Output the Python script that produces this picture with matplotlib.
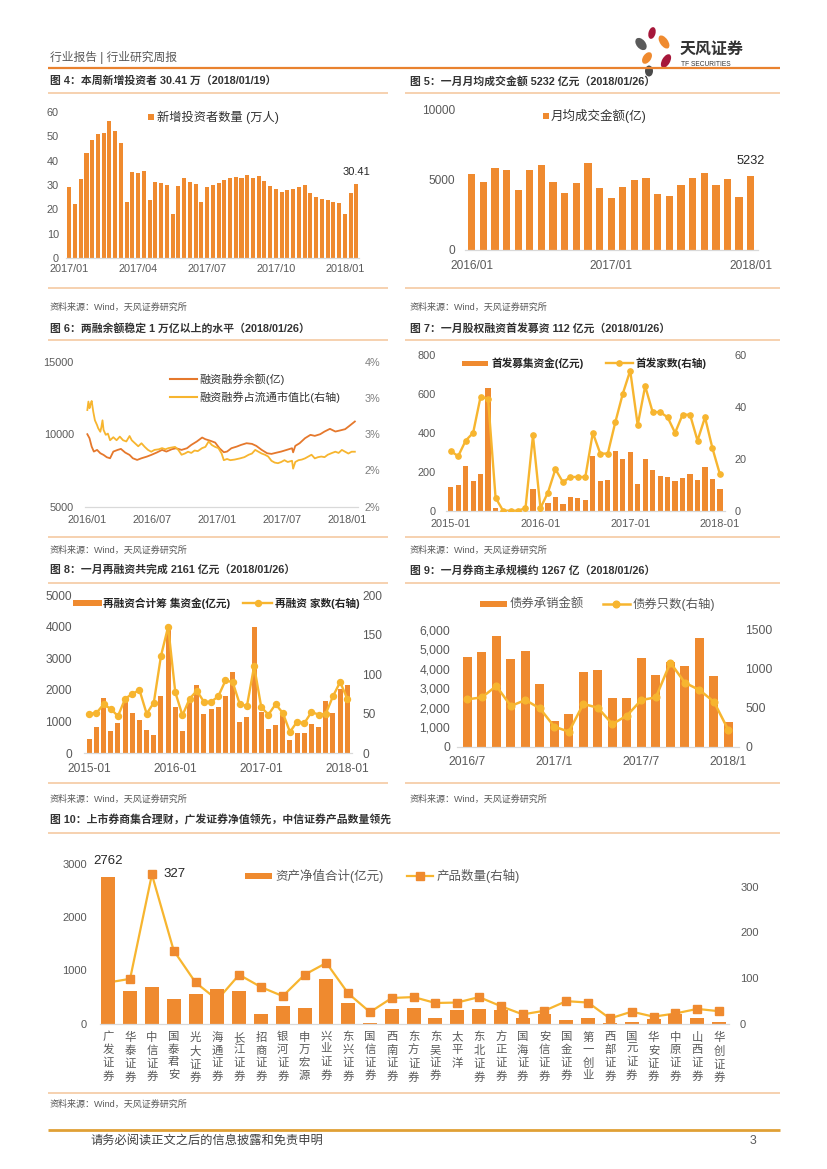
import matplotlib
matplotlib.use('Agg')
import matplotlib.pyplot as plt
from matplotlib.patches import Rectangle, Ellipse
from matplotlib.ticker import FuncFormatter
import numpy as np

plt.rcParams['font.family'] = ['Liberation Sans', 'Noto Sans CJK SC', 'DejaVu Sans']
plt.rcParams['axes.unicode_minus'] = False

# ---------------- data ----------------
# Fig 4: weekly new investors (10k)
inv_ticks = ['2017/01', '2017/04', '2017/07', '2017/10', '2018/01']
inv_values = [29.3, 22.1, 32.6, 43.1, 48.3, 50.7, 51.4, 56.1, 52.1, 47.2,
              22.9, 35.2, 34.8, 35.6, 23.7, 31.4, 30.8, 30.0, 18.0, 29.5,
              32.7, 31.2, 30.3, 22.9, 29.3, 29.9, 30.7, 31.9, 32.7, 33.4,
              32.7, 34.0, 32.9, 33.7, 31.8, 29.5, 28.2, 27.3, 28.0, 28.5,
              29.1, 29.9, 26.9, 25.1, 24.1, 23.9, 22.9, 22.5, 18.0, 26.6, 30.41]

# Fig 5: monthly average turnover (100m)
turn_ticks = ['2016/01', '2017/01', '2018/01']
turn_values = [5366, 4846, 5792, 5674, 4255, 5674, 6005, 4799, 4066, 4775,
               6147, 4397, 3688, 4444, 4965, 5083, 3972, 3806, 4610, 5106,
               5437, 4634, 5035, 3759, 5232]

# Fig 6: margin balance (months since 2016/01)
margin_ticks = ['2016/01', '2016/07', '2017/01', '2017/07', '2018/01']
bal_month = [0.0, 0.2, 0.4, 0.6, 0.9, 1.2, 1.5, 1.8, 2.1, 2.4, 2.8, 3.1, 3.5, 3.9,
             4.2, 4.6, 5.0, 5.5, 5.9, 6.4, 6.9, 7.3, 7.8, 8.2, 8.7, 9.2, 9.6, 10.1,
             10.6, 10.9, 11.3, 11.8, 12.2, 12.6, 12.9, 13.3, 13.8, 14.2, 14.7, 15.2,
             15.6, 16.1, 16.6, 17.0, 17.5, 17.9, 18.4, 18.9, 19.0, 19.2, 19.6, 20.1,
             20.6, 21.0, 21.5, 21.9, 22.4, 22.9, 23.3, 23.8, 24.2, 24.7]
bal_value = [10000, 9724, 9147, 8802, 8917, 8687, 8571, 8410, 8341, 8802, 8917, 8986,
             8733, 8571, 8341, 8226, 8341, 8456, 8571, 8733, 8917, 8802, 8963, 9032,
             8917, 9032, 9263, 9493, 9770, 9654, 9562, 9424, 9032, 8756, 8802, 9032,
             9147, 9263, 9378, 9332, 9194, 8917, 8687, 8641, 8733, 8802, 8917, 9032,
             8750, 9194, 9378, 9724, 9954, 9885, 10000, 10184, 10369, 10184, 10253,
             10346, 10576, 10876]
ratio_month = [0.0, 0.1, 0.2, 0.3, 0.4, 0.55, 0.7, 0.9, 1.0, 1.2, 1.3, 1.4, 1.5, 1.7,
               1.9, 2.1, 2.4, 2.7, 3.0, 3.3, 3.6, 3.9, 4.1, 4.4, 4.7, 5.0, 5.3, 5.6,
               5.9, 6.2, 6.6, 6.9, 7.2, 7.5, 7.8, 8.1, 8.4, 8.7, 9.0, 9.3, 9.6, 9.9,
               10.2, 10.6, 10.9, 11.2, 11.5, 11.8, 12.1, 12.4, 12.6, 12.9, 13.2, 13.6,
               14.1, 14.5, 14.9, 15.2, 15.5, 15.8, 16.1, 16.4, 16.7, 17.0, 17.3, 17.6,
               17.9, 18.2, 18.5, 18.9, 19.0, 19.2, 19.5, 19.8, 20.1, 20.4, 20.7, 21.0,
               21.3, 21.6, 21.9, 22.2, 22.6, 22.9, 23.2, 23.5, 23.8, 24.1, 24.4, 24.7]
ratio_value = [3.20, 3.34, 3.23, 3.30, 3.35, 3.17, 3.03, 2.95, 2.90, 2.84, 2.92, 3.03,
               2.87, 2.79, 2.81, 2.70, 2.75, 2.70, 2.76, 2.70, 2.68, 2.77, 2.70, 2.65,
               2.60, 2.65, 2.59, 2.54, 2.51, 2.54, 2.55, 2.57, 2.55, 2.57, 2.58, 2.59,
               2.54, 2.46, 2.48, 2.51, 2.49, 2.53, 2.52, 2.57, 2.59, 2.68, 2.62, 2.59,
               2.57, 2.48, 2.37, 2.39, 2.37, 2.38, 2.40, 2.42, 2.46, 2.48, 2.54, 2.51,
               2.48, 2.46, 2.43, 2.36, 2.33, 2.32, 2.34, 2.37, 2.34, 2.36, 2.23, 2.34,
               2.37, 2.38, 2.40, 2.43, 2.46, 2.40, 2.42, 2.43, 2.42, 2.46, 2.49, 2.51,
               2.49, 2.54, 2.51, 2.48, 2.51, 2.51]

# Fig 7: IPO (2015-01 .. 2018-01)
ym_ticks = ['2015-01', '2016-01', '2017-01', '2018-01']
ipo_amount = [123, 130, 229, 154, 187, 632, 12, 0, 0, 0, 0, 111, 0, 39, 72, 36, 70,
              65, 55, 281, 152, 158, 308, 267, 301, 135, 264, 209, 178, 173, 151, 170,
              187, 158, 224, 164, 112]
ipo_count = [23, 21, 27, 30, 44, 43, 5, 0, 0, 0, 1, 29, 1, 7, 16, 11, 13, 13, 13, 30,
             22, 22, 34, 45, 54, 33, 48, 38, 38, 36, 30, 37, 37, 27, 36, 24, 14]

# Fig 8: refinancing (2015-01 .. 2018-01)
refi_amount = [463, 832, 1737, 716, 947, 1684, 1284, 1063, 737, 579, 1821, 3968, 1474,
               705, 1579, 2158, 1253, 1389, 1463, 1800, 2568, 979, 1147, 4000, 1305,
               768, 905, 1210, 411, 632, 632, 926, 821, 1642, 1263, 2032, 2161]
refi_count = [50, 51, 62, 56, 47, 69, 75, 80, 50, 64, 123, 160, 77, 48, 69, 79, 65,
              65, 72, 92, 90, 62, 60, 110, 58, 49, 62, 51, 27, 40, 38, 52, 49, 50, 72,
              90, 69]

# Fig 9: bond underwriting (2016/7 .. 2018/1)
bond_ticks = ['2016/7', '2017/1', '2017/7', '2018/1']
bond_amount = [4614, 4871, 5694, 4511, 4923, 3207, 1320, 1680, 3842, 3945, 2521, 2504,
               4580, 3670, 4340, 4134, 5609, 3636, 1267]
bond_count = [609, 634, 780, 523, 600, 493, 257, 193, 549, 501, 291, 399, 600, 634,
              1080, 823, 729, 579, 214]

# Fig 10: brokers' collective asset management
brokers = ['广发证券', '华泰证券', '中信证券', '国泰君安', '光大证券', '海通证券', '长江证券',
           '招商证券', '银河证券', '申万宏源', '兴业证券', '东兴证券', '国信证券', '西南证券',
           '东方证券', '东吴证券', '太平洋', '东北证券', '方正证券', '国海证券', '安信证券',
           '国金证券', '第一创业', '西部证券', '国元证券', '华安证券', '中原证券', '山西证券',
           '华创证券']
nav_total = [2762, 615, 690, 452, 546, 653, 615, 170, 333, 289, 841, 389, 13, 276, 289,
             107, 257, 276, 245, 107, 176, 63, 107, 13, 25, 88, 188, 100, 31]
prod_count = [90, 98, 327, 160, 90, 52, 107, 80, 60, 107, 133, 66, 25, 56, 58, 45, 46,
              58, 38, 20, 28, 49, 46, 11, 26, 15, 22, 32, 27]

# ---------------- style ----------------
BAR = '#EF8A2F'
LINE = '#F7B52F'
ORANGE_LINE = '#E5782C'
GRAY = '#595959'
SEP = '#F5C9A2'

W, H = 827, 1169
fig = plt.figure(figsize=(W / 100, H / 100), dpi=100)
bg = fig.add_axes([0, 0, 1, 1], zorder=-10)
bg.set_xlim(0, W)
bg.set_ylim(H, 0)
bg.axis('off')


def add_ax(x0, y0, x1, y1):
    return fig.add_axes([x0 / W, 1 - y1 / H, (x1 - x0) / W, (y1 - y0) / H])


def style(ax, size=8, color=GRAY, base=True):
    for s in ax.spines.values():
        s.set_visible(False)
    if base:
        ax.spines['bottom'].set_visible(True)
        ax.spines['bottom'].set_color('#D9D9D9')
        ax.spines['bottom'].set_linewidth(0.9)
    ax.tick_params(length=0, labelsize=size, labelcolor=color)
    ax.patch.set_alpha(0)


def hline(y, x0, x1, color=SEP, lw=1.2):
    bg.plot([x0, x1], [y, y], color=color, lw=lw, solid_capstyle='butt')


def txt(x, y, s, size=8, color='#333333', weight='normal', ha='left'):
    bg.text(x, y, s, fontsize=size, color=color, fontweight=weight, ha=ha, va='center')


def leg_patch(x0, x1, yc, h, color=BAR):
    bg.add_patch(Rectangle((x0, yc - h / 2), x1 - x0, h, color=color, lw=0))


def leg_line(x0, x1, yc, color, lw, marker=None, mcolor=None, ms=5):
    bg.plot([x0, x1], [yc, yc], color=color, lw=lw)
    if marker:
        bg.plot([(x0 + x1) / 2], [yc], marker=marker, color=mcolor, ms=ms, lw=0)


# ---------------- page frame ----------------
txt(50, 57, '行业报告 | 行业研究周报', size=8.5, color=GRAY)
hline(68, 48, 780, color='#E9822F', lw=1.6)
# logo
for (cx, cy, w, h, a, c) in [(652, 33, 7, 12, 15, '#A6173A'), (641, 44, 9, 14, -40, '#5A5A5A'),
                             (664, 42, 8, 15, -35, BAR), (647, 58, 8, 13, 35, BAR),
                             (666, 61, 8, 15, 30, '#A6173A'), (649, 71, 8, 11, 0, '#4A4A4A')]:
    bg.add_patch(Ellipse((cx, cy), w, h, angle=a, color=c, lw=0))
txt(680, 49, '天风证券', size=11.5, color='#333333', weight='bold')
txt(681, 64, 'TF SECURITIES', size=4.8, color='#333333')

LX, RX = 50, 410
L0, L1, R0, R1 = 48, 388, 405, 780
src = '资料来源：Wind，天风证券研究所'

titles = [
    (LX, 81, '图 4：本周新增投资者 30.41 万（2018/01/19）'),
    (RX, 81, '图 5：一月月均成交金额 5232 亿元（2018/01/26）'),
    (LX, 328, '图 6：两融余额稳定 1 万亿以上的水平（2018/01/26）'),
    (RX, 328, '图 7：一月股权融资首发募资 112 亿元（2018/01/26）'),
    (LX, 570, '图 8：一月再融资共完成 2161 亿元（2018/01/26）'),
    (RX, 570, '图 9：一月券商主承规模约 1267 亿（2018/01/26）'),
    (LX, 820, '图 10：上市券商集合理财，广发证券净值领先，中信证券产品数量领先'),
]
for x, y, s in titles:
    txt(x, y, s, size=7.8, color='#333333', weight='bold')
for y in (93, 340, 583):
    hline(y, L0, L1)
    hline(y, R0, R1)
hline(833, L0, R1)
for y in (288, 537, 783):
    hline(y, L0, L1)
    hline(y, R0, R1)
hline(1093, L0, R1)
for y in (307, 550, 799):
    txt(LX, y, src, size=6.5, color=GRAY)
    txt(RX, y, src, size=6.5, color=GRAY)
txt(LX, 1104, src, size=6.5, color=GRAY)
hline(1130, 48, 780, color='#E0A035', lw=2.0)
txt(90, 1141, '请务必阅读正文之后的信息披露和免责申明', size=8.8, color='#404040')
txt(750, 1141, '3', size=8.8, color=GRAY)

# ---------------- Fig 4 ----------------
ax = add_ax(65.9, 111.7, 359.4, 258.3)
x = np.arange(len(inv_values))
ax.bar(x, inv_values, width=0.7, color=BAR)
ax.set_xlim(-0.59, len(inv_values) - 0.46)
ax.set_ylim(0, 60)
ax.set_yticks(range(0, 61, 10))
ax.set_xticks([0, 12, 24, 36, 48])
ax.set_xticklabels(inv_ticks)
style(ax, size=7.8)
ax.tick_params(axis='y', pad=5)
ax.tick_params(axis='x', pad=4)
ax.annotate(f'{inv_values[-1]:.2f}', (x[-1], inv_values[-1]), xytext=(0, 5),
            textcoords='offset points', ha='center', va='bottom', fontsize=8, color='#262626')
leg_patch(148.3, 154.3, 117, 6)
txt(157, 117, '新增投资者数量 (万人)', size=8.8, color='#333333')

# ---------------- Fig 5 ----------------
ax = add_ax(464.7, 109, 757.7, 250)
x = np.arange(len(turn_values))
ax.bar(x, turn_values, width=0.63, color=BAR)
ax.set_xlim(-0.6, 24.6)
ax.set_ylim(0, 10000)
ax.set_yticks([0, 5000, 10000])
ax.set_xticks([0, 12, 24])
ax.set_xticklabels(turn_ticks)
style(ax, size=8.6)
ax.tick_params(axis='y', pad=7)
ax.tick_params(axis='x', pad=7)
ax.annotate(str(turn_values[-1]), (x[-1], turn_values[-1]), xytext=(0, 7),
            textcoords='offset points', ha='center', va='bottom', fontsize=9.2, color='#262626')
leg_patch(543, 548.5, 116, 5.5)
txt(551, 116, '月均成交金额(亿)', size=9, color='#333333')

# ---------------- Fig 6 ----------------
ax = add_ax(85, 361.7, 358, 506.7)
ax2 = ax.twinx()
ax.plot(bal_month, bal_value, color=ORANGE_LINE, lw=1.3)
ax2.plot(ratio_month, ratio_value, color=LINE, lw=1.3)
ax.set_xlim(-0.215, 24.99)
ax.set_ylim(5000, 15000)
ax.set_yticks([5000, 10000, 15000])
ax2.set_ylim(1.6, 4.0)
ax2.set_yticks([1.6, 2.2, 2.8, 3.4, 4.0])
ax2.yaxis.set_major_formatter(FuncFormatter(lambda v, _: f'{v:.0f}%'))
ax.set_xticks([0, 6, 12, 18, 24])
ax.set_xticklabels(margin_ticks)
style(ax, size=7.8)
style(ax2, size=7.8, color='#7F7F7F', base=False)
ax.tick_params(axis='y', pad=8)
ax.tick_params(axis='x', pad=6)
ax2.tick_params(axis='y', pad=5)
leg_line(170, 196.7, 379.3, ORANGE_LINE, 1.5)
txt(199.3, 379.3, '融资融券余额(亿)', size=8, color='#333333')
leg_line(170, 196.7, 397.3, LINE, 1.5)
txt(199.3, 397.3, '融资融券占流通市值比(右轴)', size=8, color='#333333')

# ---------------- Fig 7 ----------------
ax = add_ax(445.5, 355, 725.2, 510.7)
ax2 = ax.twinx()
x = np.arange(len(ipo_amount))
ax.bar(x, ipo_amount, width=0.7, color=BAR)
ax2.plot(x, ipo_count, color=LINE, lw=1.7, marker='o', ms=3.8)
ax.set_xlim(-0.695, 36.7)
ax.set_ylim(0, 800)
ax.set_yticks(range(0, 801, 200))
ax2.set_ylim(0, 60)
ax2.set_yticks([0, 20, 40, 60])
ax.set_xticks([0, 12, 24, 36])
ax.set_xticklabels(ym_ticks)
style(ax, size=7.9)
style(ax2, size=7.9, base=False)
ax.tick_params(axis='y', pad=7)
ax.tick_params(axis='x', pad=6)
ax2.tick_params(axis='y', pad=7)
leg_patch(461.7, 488.3, 363.3, 5.5)
txt(491.7, 363.3, '首发募集资金(亿元)', size=7.7, color='#262626', weight='bold')
leg_line(606, 632.7, 363.3, LINE, 1.7, marker='o', mcolor=LINE, ms=3.8)
txt(635.3, 363.3, '首发家数(右轴)', size=7.7, color='#262626', weight='bold')

# ---------------- Fig 8 ----------------
ax = add_ax(84.3, 595, 352.3, 753.3)
ax2 = ax.twinx()
x = np.arange(len(refi_amount))
ax.bar(x, refi_amount, width=0.7, color=BAR)
ax2.plot(x, refi_count, color=LINE, lw=1.7, marker='o', ms=4.3)
ax.set_xlim(-0.7, 36.7)
ax.set_ylim(0, 5000)
ax.set_yticks(range(0, 5001, 1000))
ax2.set_ylim(0, 200)
ax2.set_yticks(range(0, 201, 50))
ax.set_xticks([0, 12, 24, 36])
ax.set_xticklabels(ym_ticks)
style(ax, size=8.6)
style(ax2, size=8.6, base=False)
ax.tick_params(axis='y', pad=9)
ax.tick_params(axis='x', pad=7)
ax2.tick_params(axis='y', pad=7)
leg_patch(73.3, 101.7, 603, 6)
txt(103.3, 603, '再融资合计筹 集资金(亿元)', size=7.7, color='#262626', weight='bold')
leg_line(243.3, 271.7, 603, LINE, 1.7, marker='o', mcolor=LINE, ms=4.3)
txt(275, 603, '再融资 家数(右轴)', size=7.7, color='#262626', weight='bold')

# ---------------- Fig 9 ----------------
ax = add_ax(457.2, 630, 738.5, 746.7)
ax2 = ax.twinx()
x = np.arange(len(bond_amount))
ax.bar(x, bond_amount, width=0.64, color=BAR)
ax2.plot(x, bond_count, color=LINE, lw=1.8, marker='o', ms=4.8)
ax.set_xlim(-0.7, 18.7)
ax.set_ylim(0, 6000)
ax.set_yticks(range(0, 6001, 1000))
ax.yaxis.set_major_formatter(FuncFormatter(lambda v, _: f'{v:,.0f}'))
ax2.set_ylim(0, 1500)
ax2.set_yticks([0, 500, 1000, 1500])
ax.set_xticks([0, 6, 12, 18])
ax.set_xticklabels(bond_ticks)
style(ax, size=8.7)
style(ax2, size=8.7, base=False)
ax.tick_params(axis='y', pad=5)
ax.tick_params(axis='x', pad=7)
ax2.tick_params(axis='y', pad=5)
leg_patch(480, 506.7, 604, 6)
txt(509.3, 604, '债券承销金额', size=8.9, color=GRAY)
leg_line(602.7, 630, 604, LINE, 1.8, marker='o', mcolor=LINE, ms=4.8)
txt(632.7, 604, '债券只数(右轴)', size=8.9, color=GRAY)

# ---------------- Fig 10 ----------------
ax = add_ax(100, 864, 729, 1023.5)
ax2 = ax.twinx()
ax.set_zorder(ax2.get_zorder() + 1)
x = np.arange(len(brokers))
ax.bar(x, nav_total, width=0.64, color=BAR)
ax2.plot(x, prod_count, color=LINE, lw=1.6, marker='s', ms=5.3, mfc=BAR, mec=BAR)
ax.set_xlim(-0.38, 28.46)
ax.set_ylim(0, 3000)
ax.set_yticks(range(0, 3001, 1000))
ax2.set_ylim(0, 350)
ax2.set_yticks([0, 100, 200, 300])
ax.set_xticks(x)
ax.set_xticklabels(['\n'.join(b) for b in brokers], linespacing=1.3, va='top')
style(ax, size=8)
style(ax2, size=8, base=False)
ax.tick_params(axis='y', pad=9.5)
ax.tick_params(axis='x', pad=6, labelsize=8.2)
ax2.tick_params(axis='y', pad=8)
ax.annotate(str(nav_total[0]), (0, nav_total[0]), xytext=(0, 7),
            textcoords='offset points', ha='center', va='bottom', fontsize=9.5, color='#262626')
ax2.annotate(str(prod_count[2]), (2, prod_count[2]), xytext=(8, 0),
             textcoords='offset points', ha='left', va='center', fontsize=9.5, color='#262626')
leg_patch(245, 271.7, 876, 6.5)
txt(275, 876, '资产净值合计(亿元)', size=9, color=GRAY)
leg_line(406.7, 433.3, 876, LINE, 1.6, marker='s', mcolor=BAR, ms=5.3)
txt(436.7, 876, '产品数量(右轴)', size=9, color=GRAY)

fig.savefig('out.png', dpi=100)
